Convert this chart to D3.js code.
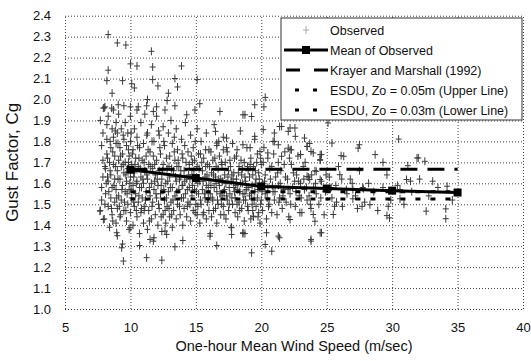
<!DOCTYPE html>
<html>
<head>
<meta charset="utf-8">
<script src="https://cdn.jsdelivr.net/npm/d3@7"></script>
<style>
  body { margin: 0; background: #fff; }
  svg { font-family: "Liberation Sans", Arial, sans-serif; }
</style>
</head>
<body>
<div id="chart"></div>
<script>
const xTicks = [5, 10, 15, 20, 25, 30, 35, 40]
const yTicks = [1.0, 1.1, 1.2, 1.3, 1.4, 1.5, 1.6, 1.7, 1.8, 1.9, 2.0, 2.1, 2.2, 2.3, 2.4]

// mean of observed gust factor by wind speed bin
const meanSpeed = [10, 15, 20, 25, 30, 35]
const meanGust = [1.665, 1.625, 1.585, 1.575, 1.565, 1.556]

// reference lines (flat across 10..35 m/s)
const refSpeed = [10, 35]
const krayerGust = [1.667, 1.667]
const esduUpperGust = [1.56, 1.56]
const esduLowerGust = [1.525, 1.525]

const legendLabels = [
  "Observed",
  "Mean of Observed",
  "Krayer and Marshall (1992)",
  "ESDU, Zo = 0.05m (Upper Line)",
  "ESDU, Zo = 0.03m (Lower Line)"
]

// observed points [speed, gust factor]
const observed = [
  [8.3,2.31],[9.0,2.27],[9.65,2.26],[11.6,2.23],[10.0,2.17],[10.5,2.16],[8.3,2.14],[11.7,2.155],[13.9,2.16],[8.2,2.09],
  [9.4,2.09],[10.1,2.075],[11.7,2.095],[12.1,2.065],[13.4,2.10],[13.6,2.06],[15.1,2.095],[10.3,2.055],[8.6,2.03],[12.9,2.03],
  [11.3,2.0],[12.8,1.995],[20.3,2.01],[8.05,1.965],[10.0,1.965],[10.6,1.965],[12.0,1.965],[15.3,1.98],[19.5,1.975],[20.2,1.965],
  [7.93,1.959],[8.57,1.959],[9.07,1.975],[11.24,1.97],[11.75,1.943],[12.64,1.95],[13.4,1.97],[14.3,1.927],[14.93,1.95],[16.84,1.943],
  [18.75,1.927],[19.26,1.919],[21.4,1.871],[22.57,1.864],[22.06,1.848],
  [18.6,1.927],[21.55,1.871],[22.2,1.864],[22.6,1.824],[20.15,1.856],[21.0,1.84],[16.5,1.848],[16.6,1.792],[17.35,1.816],[18.6,1.784],
  [19.5,1.824],[20.9,1.80],[21.3,1.784],[22.2,1.76],[23.5,1.776],[23.8,1.752],[24.5,1.713],[23.0,1.737],[17.1,1.76],[19.9,1.752],
  [20.5,1.745],[21.55,1.729],[24.2,1.657],[23.5,1.633],[23.7,1.618],[24.5,1.618],[23.3,1.816],[24.5,1.737],
  [9.46,1.229],[11.24,1.245],[12.4,1.233],[9.33,1.292],[10.7,1.303],[13.4,1.297],[14.0,1.327],[16.6,1.303],[19.26,1.268],[20.8,1.276],
  [8.95,1.364],[9.97,1.388],[11.5,1.332],[11.75,1.324],[12.64,1.372],[12.77,1.356],[16.08,1.348],[17.73,1.356],[18.75,1.36],[20.4,1.364],
  [21.4,1.34],[7.93,1.427],[7.67,1.467],[18.6,1.364],[21.3,1.348],[23.8,1.324],[24.6,1.364],[20.3,1.308],[17.73,1.388],[23.97,1.451],
  [24.1,1.419],[22.2,1.427],[19.4,1.443],
  [25.1,1.888],[25.4,1.792],[27.4,1.768],[30.5,1.811],[28.7,1.737],[29.3,1.70],[32.0,1.721],[31.2,1.684],[33.1,1.61],[31.1,1.618],
  [31.4,1.61],[26.3,1.729],[26.0,1.641],[27.7,1.49],[28.3,1.498],[29.7,1.49],[29.6,1.446],[29.8,1.435],[32.6,1.467],[34.1,1.478],
  [25.6,1.49],[25.5,1.451],[24.6,1.737],[27.0,1.57],[27.8,1.574],[30.6,1.526],[27.0,1.526],[30.6,1.57],[27.5,1.784],[26.1,1.732],
  [31.9,1.721],[32.5,1.705],[34.2,1.586],[34.1,1.431],[23.8,1.332],[24.5,1.364],[22.06,1.768],[23.5,1.776],[23.97,1.745],[23.0,1.737],
  [22.3,1.76],
  [7.7,1.47],[7.8,1.52],[7.8,1.58],[7.9,1.63],[7.9,1.71],[7.8,1.78],[7.9,1.84],[7.7,1.90],[8.0,1.43],[8.0,1.96],
  [8.1,1.55],[8.1,1.67],[8.2,1.74],[8.2,1.81],[8.2,1.88],[8.3,1.49],[8.3,1.61],[8.3,1.92],[8.4,1.39],[8.4,1.70],
  [8.5,1.53],[8.5,1.64],[8.5,1.77],[8.6,1.86],[8.6,1.45],[8.6,1.58],[8.7,1.69],[8.7,1.82],[8.7,1.95],[8.8,1.51],
  [8.8,1.62],[8.8,1.73],[8.9,1.41],[8.9,1.57],[8.9,1.79],[8.9,1.89],[9.0,1.66],[9.0,1.35],[9.0,1.48],[9.0,1.84],
  [9.1,1.54],[9.1,1.71],[9.1,1.93],[9.2,1.44],[9.2,1.62],[9.2,1.77],[9.3,1.52],[9.3,1.86],[9.3,1.68],[9.4,1.31],
  [9.4,1.59],[9.4,1.74],[9.5,1.47],[9.5,1.65],[9.5,1.81],[9.5,1.97],[9.6,1.56],[9.6,1.70],[9.6,1.89],[9.7,1.42],
  [9.7,1.61],[9.7,1.78],[9.8,1.50],[9.8,1.67],[9.8,1.84],[9.9,1.38],[9.9,1.57],[9.9,1.73],[10.0,1.46],[10.0,1.63],
  [10.0,1.80],[10.0,1.92],[10.1,1.53],[10.1,1.69],[10.2,1.40],[10.2,1.59],[10.2,1.76],[10.3,1.86],[10.3,1.49],[10.3,1.65],
  [10.4,1.55],[10.4,1.72],[10.5,1.44],[10.5,1.61],[10.5,1.82],[10.5,1.95],
  [10.6,1.51],[10.6,1.68],[10.7,1.36],[10.7,1.58],[10.7,1.77],[10.8,1.46],[10.8,1.63],[10.8,1.89],[10.9,1.53],[10.9,1.71],
  [11.0,1.41],[11.0,1.60],[11.0,1.79],[11.1,1.49],[11.1,1.66],[11.1,1.93],[11.2,1.56],[11.2,1.73],[11.3,1.38],[11.3,1.62],
  [11.3,1.84],[11.4,1.47],[11.4,1.69],[11.5,1.54],[11.5,1.75],[11.6,1.43],[11.6,1.60],[11.6,1.88],[11.7,1.51],[11.7,1.67],
  [11.8,1.34],[11.8,1.57],[11.8,1.80],[11.9,1.45],[11.9,1.64],[12.0,1.53],[12.0,1.71],[12.0,1.92],[12.1,1.40],[12.1,1.59],
  [12.2,1.48],[12.2,1.66],[12.2,1.83],[12.3,1.55],[12.3,1.74],[12.4,1.37],[12.4,1.62],[12.5,1.45],[12.5,1.69],[12.5,1.87],
  [12.6,1.52],[12.6,1.78],[12.7,1.41],[12.7,1.60],[12.8,1.49],[12.8,1.67],[12.9,1.56],[12.9,1.84],[13.0,1.44],[13.0,1.63],
  [13.0,1.73],[13.1,1.51],[13.1,1.90],[13.2,1.39],[13.2,1.58],[13.2,1.79],[13.3,1.47],[13.3,1.66],[13.4,1.54],[13.4,1.71],
  [13.5,1.43],[13.5,1.61],[13.5,1.86],[13.6,1.50],[13.6,1.76],[13.7,1.57],[13.7,1.68],[13.8,1.45],[13.8,1.63],[13.9,1.53],
  [13.9,1.81],[14.0,1.40],[14.0,1.59],[14.0,1.72],[14.1,1.48],[14.1,1.66],[14.2,1.55],[14.2,1.89],[14.3,1.44],[14.3,1.62],
  [14.4,1.51],[14.4,1.75],[14.5,1.58],[14.5,1.69],[14.6,1.42],[14.6,1.83],[14.7,1.54],[14.7,1.64],[14.8,1.47],[14.8,1.77],
  [14.9,1.57],[14.9,1.71],[15.0,1.50],[15.0,1.62],
  [15.1,1.45],[15.1,1.68],[15.1,1.86],[15.2,1.55],[15.2,1.74],[15.3,1.41],[15.3,1.61],[15.4,1.50],[15.4,1.80],[15.5,1.57],
  [15.5,1.66],[15.6,1.46],[15.6,1.72],[15.7,1.53],[15.7,1.63],[15.8,1.43],[15.8,1.59],[15.8,1.84],[15.9,1.51],[15.9,1.69],
  [16.0,1.47],[16.0,1.62],[16.0,1.76],[16.1,1.55],[16.1,1.36],[16.2,1.44],[16.2,1.65],[16.3,1.52],[16.3,1.71],[16.4,1.58],
  [16.4,1.88],[16.5,1.48],[16.5,1.63],[16.6,1.41],[16.6,1.56],[16.6,1.78],[16.7,1.50],[16.7,1.67],[16.8,1.59],[16.8,1.73],
  [16.9,1.45],[16.9,1.62],[17.0,1.54],[17.0,1.69],[17.1,1.49],[17.1,1.82],[17.2,1.57],[17.2,1.64],[17.3,1.43],[17.3,1.60],
  [17.4,1.52],[17.4,1.75],[17.5,1.47],[17.5,1.66],
  [17.6,1.55],[17.6,1.71],[17.7,1.39],[17.7,1.61],[17.8,1.50],[17.8,1.79],[17.9,1.58],[17.9,1.65],[18.0,1.46],[18.0,1.53],
  [18.1,1.62],[18.1,1.73],[18.2,1.44],[18.2,1.57],[18.3,1.51],[18.3,1.68],[18.4,1.60],[18.4,1.85],[18.5,1.48],[18.5,1.64],
  [18.6,1.55],[18.6,1.36],[18.7,1.42],[18.7,1.70],[18.8,1.52],[18.8,1.61],[18.9,1.58],[18.9,1.77],[19.0,1.47],[19.0,1.66],
  [19.1,1.54],[19.1,1.63],[19.2,1.43],[19.2,1.72],[19.3,1.50],[19.3,1.59],[19.4,1.44],[19.4,1.68],[19.5,1.56],[19.5,1.81],
  [19.6,1.49],[19.6,1.62],[19.7,1.53],[19.7,1.74],[19.8,1.46],[19.8,1.65],[19.9,1.58],[19.9,1.41],[20.0,1.52],[20.0,1.69],
  [20.1,1.60],[20.1,1.47],[20.2,1.77],[20.3,1.55],[20.3,1.64],[20.4,1.43],[20.5,1.58],[20.5,1.72],[20.6,1.50],[20.7,1.62],
  [20.8,1.46],[20.8,1.68],[20.9,1.56],[21.0,1.80],[21.0,1.52],[21.1,1.63],[21.2,1.45],[21.3,1.59],[21.3,1.70],[21.4,1.53],
  [21.5,1.66],[21.6,1.48],[21.7,1.57],[21.8,1.75],[21.9,1.51],[22.0,1.62],[22.1,1.44],[22.2,1.55],[22.3,1.69],[22.4,1.58],
  [22.6,1.49],[22.7,1.64],[22.8,1.73],[22.9,1.54],[23.0,1.60],[23.1,1.46],[23.2,1.68],[23.3,1.57],[23.5,1.52],[23.6,1.63],
  [23.7,1.79],[23.8,1.48],[24.0,1.58],[24.1,1.66],[24.2,1.55],[24.4,1.50],[24.5,1.71],[24.6,1.61],[24.8,1.45],[24.9,1.56],
  [25.2,1.63],[25.4,1.53],[25.7,1.59],[25.9,1.68],[26.2,1.49],[26.5,1.57],[26.8,1.62],[27.2,1.54],[27.5,1.66],[27.9,1.51],
  [28.2,1.60],[28.6,1.56],[28.9,1.47],[29.3,1.58],[29.6,1.64],[29.9,1.52],
  [30.4,1.59],[30.9,1.50],[31.5,1.56],[32.1,1.62],[32.8,1.54],[33.5,1.58],[34.6,1.52],
  [8.05,1.50],[8.15,1.60],[8.25,1.72],[8.35,1.56],[8.45,1.66],[8.55,1.48],[8.65,1.75],[8.75,1.59],[8.85,1.68],[8.95,1.53],
  [9.05,1.62],[9.15,1.49],[9.25,1.73],[9.35,1.57],[9.45,1.69],[9.55,1.51],[9.65,1.64],[9.75,1.55],[9.85,1.76],[9.95,1.60],
  [9.05,1.79],[9.25,1.45],[9.45,1.83],[9.65,1.47],[9.85,1.70],[8.45,1.80],[8.65,1.42],[8.85,1.85],[8.25,1.63],[8.05,1.68],
  [10.05,1.57],[10.15,1.74],[10.25,1.51],[10.35,1.69],[10.45,1.60],[10.55,1.78],[10.65,1.54],[10.75,1.67],[10.85,1.48],[10.95,1.62],
  [10.05,1.84],[10.25,1.63],[10.45,1.47],[10.65,1.72],[10.85,1.58],[11.05,1.70],[11.15,1.52],[11.25,1.64],[11.35,1.76],[11.45,1.58],
  [11.55,1.68],[11.65,1.49],[11.75,1.73],[11.85,1.61],[11.95,1.55],[11.05,1.47],[11.25,1.83],[11.45,1.42],[11.65,1.80],[11.85,1.69],
  [12.05,1.62],[12.15,1.50],[12.25,1.77],[12.35,1.59],[12.45,1.66],[12.55,1.57],[12.65,1.47],[12.75,1.72],[12.85,1.61],[12.95,1.68],
  [12.15,1.85],[12.35,1.44],[12.55,1.80],[12.75,1.53],[12.95,1.48],[13.05,1.58],[13.15,1.67],[13.25,1.52],[13.35,1.75],[13.45,1.63],
  [13.55,1.56],[13.65,1.71],[13.75,1.49],[13.85,1.66],[13.95,1.59],[13.15,1.45],[13.35,1.82],[13.55,1.68],[13.75,1.62],[13.95,1.74],
  [14.05,1.53],[14.15,1.61],[14.25,1.70],[14.35,1.57],[14.45,1.64],[14.55,1.50],[14.65,1.73],[14.75,1.59],[14.85,1.66],[14.95,1.46],
  [14.15,1.78],[14.35,1.49],[14.55,1.62],[14.75,1.70],[14.95,1.80],[15.05,1.56],[15.15,1.60],[15.25,1.67],[15.35,1.52],[15.45,1.70],
  [15.55,1.61],[15.65,1.55],[15.75,1.76],[15.85,1.64],[15.95,1.58],[15.15,1.49],[15.35,1.74],[15.55,1.45],[15.75,1.68],[15.95,1.53],
  [16.05,1.68],[16.15,1.59],[16.25,1.53],[16.35,1.64],[16.45,1.72],[16.55,1.60],[16.65,1.52],[16.75,1.62],[16.85,1.55],[16.95,1.70],
  [16.15,1.75],[16.35,1.47],[16.55,1.68],[16.75,1.80],[16.95,1.50],[17.05,1.61],[17.15,1.56],[17.25,1.70],[17.35,1.54],[17.45,1.63],
  [17.55,1.58],[17.65,1.68],[17.75,1.53],[17.85,1.62],[17.95,1.72],[17.15,1.45],[17.35,1.77],[17.55,1.50],[17.75,1.64],[17.95,1.56],
  [18.05,1.59],[18.15,1.50],[18.25,1.65],[18.35,1.56],[18.45,1.71],[18.55,1.60],[18.65,1.52],[18.75,1.63],[18.85,1.57],[18.95,1.68],
  [18.15,1.76],[18.35,1.47],[18.55,1.67],[18.75,1.55],[18.95,1.49],[19.05,1.58],[19.15,1.69],[19.25,1.55],[19.35,1.64],[19.45,1.52],
  [19.55,1.60],[19.65,1.70],[19.75,1.57],[19.85,1.62],[19.95,1.50],[19.15,1.77],[19.35,1.47],[19.55,1.66],[19.75,1.44],[19.95,1.72],
  [20.05,1.56],[20.25,1.61],[20.45,1.53],[20.65,1.67],[20.85,1.59],[21.05,1.56],[21.25,1.65],[21.45,1.60],[21.65,1.54],[21.85,1.63],
  [22.05,1.57],[22.25,1.50],[22.45,1.65],[22.65,1.56],[22.85,1.61],[23.05,1.53],[23.25,1.62],[23.45,1.58],[23.65,1.54],[23.85,1.64],
  [20.15,1.70],[20.55,1.49],[20.95,1.74],[21.35,1.51],[21.75,1.69],[22.15,1.72],[22.55,1.61],[22.95,1.46],[23.35,1.70],[23.75,1.50],
  [24.15,1.60],[24.55,1.53],[24.95,1.64],[25.35,1.58],[25.75,1.51],[26.15,1.62],[26.55,1.55],[26.95,1.60],[27.35,1.48],[27.75,1.58]
]

const width = 531
const height = 361
const plot = { left: 65, right: 523, top: 15.7, bottom: 309 }

const x = d3.scaleLinear().domain([5, 40]).range([plot.left, plot.right])
const y = d3.scaleLinear().domain([1.0, 2.4]).range([plot.bottom, plot.top])

const svg = d3.select("#chart")
  .append("svg")
  .attr("width", width)
  .attr("height", height)

// dotted gridlines, including the plot frame
const gridStyle = g => {
  g.select(".domain").remove()
  g.selectAll("line")
    .attr("stroke", "#444")
    .attr("stroke-width", 1)
    .attr("stroke-dasharray", "1,2")
  g.selectAll("text").remove()
}

svg.append("g")
  .attr("transform", `translate(${plot.left},0)`)
  .call(d3.axisLeft(y).tickValues(yTicks).tickSize(-(plot.right - plot.left)).tickFormat(""))
  .call(gridStyle)

svg.append("g")
  .attr("transform", `translate(0,${plot.bottom})`)
  .call(d3.axisBottom(x).tickValues(xTicks).tickSize(-(plot.bottom - plot.top)).tickFormat(""))
  .call(gridStyle)

// tick labels
const labelStyle = g => {
  g.select(".domain").remove()
  g.selectAll("line").remove()
  g.selectAll("text")
    .attr("fill", "#111")
    .style("font-size", "13px")
}

svg.append("g")
  .attr("transform", `translate(${plot.left},0)`)
  .call(d3.axisLeft(y).tickValues(yTicks).tickSize(0).tickPadding(14).tickFormat(d3.format(".1f")))
  .call(labelStyle)

svg.append("g")
  .attr("transform", `translate(0,${plot.bottom})`)
  .call(d3.axisBottom(x).tickValues(xTicks).tickSize(0).tickPadding(14).tickFormat(d3.format("d")))
  .call(labelStyle)

// axis titles
svg.append("text")
  .attr("x", (plot.left + plot.right) / 2)
  .attr("y", 351)
  .attr("text-anchor", "middle")
  .attr("fill", "#111")
  .style("font-size", "14.5px")
  .text("One-hour Mean Wind Speed (m/sec)")

svg.append("text")
  .attr("transform", `translate(18,${(plot.top + plot.bottom) / 2}) rotate(-90)`)
  .attr("text-anchor", "middle")
  .attr("fill", "#111")
  .style("font-size", "17px")
  .text("Gust Factor, Cg")

// observed scatter as "+" marks
const cross = (cx, cy, hw, hh) => `M${cx - hw},${cy}H${cx + hw}M${cx},${cy - hh}V${cy + hh}`

svg.append("g")
  .selectAll("path")
  .data(observed)
  .enter()
  .append("path")
  .attr("d", d => cross(x(d[0]), y(d[1]), 3, 4))
  .attr("stroke", "#3a3a3a")
  .attr("stroke-width", 1)
  .attr("fill", "none")

// reference lines
const refLine = d3.line().x(d => x(d[0])).y(d => y(d[1]))

svg.append("path")
  .datum(refSpeed.map((s, i) => [s, krayerGust[i]]))
  .attr("d", refLine)
  .attr("stroke", "#000")
  .attr("stroke-width", 3)
  .attr("stroke-dasharray", "17,10")
  .attr("fill", "none")

svg.append("path")
  .datum(refSpeed.map((s, i) => [s, esduUpperGust[i]]))
  .attr("d", refLine)
  .attr("stroke", "#000")
  .attr("stroke-width", 3)
  .attr("stroke-dasharray", "5,10")
  .attr("fill", "none")

svg.append("path")
  .datum(refSpeed.map((s, i) => [s, esduLowerGust[i]]))
  .attr("d", refLine)
  .attr("stroke", "#000")
  .attr("stroke-width", 3)
  .attr("stroke-dasharray", "5,10")
  .attr("fill", "none")

// mean line with square markers
const meanData = meanSpeed.map((s, i) => [s, meanGust[i]])
svg.append("path")
  .datum(meanData)
  .attr("d", refLine)
  .attr("stroke", "#000")
  .attr("stroke-width", 3)
  .attr("fill", "none")

svg.append("g")
  .selectAll("rect")
  .data(meanData)
  .enter()
  .append("rect")
  .attr("x", d => x(d[0]) - 4)
  .attr("y", d => y(d[1]) - 4)
  .attr("width", 8)
  .attr("height", 8)
  .attr("fill", "#000")

// legend
const legend = svg.append("g").attr("transform", "translate(281,18)")
legend.append("rect")
  .attr("width", 241)
  .attr("height", 102)
  .attr("fill", "#fff")
  .attr("stroke", "#333")
  .attr("stroke-width", 1)

const rowY = i => 12 + i * 20
const sx0 = 3, sx1 = 47, tx = 49

legend.selectAll(".legend-label")
  .data(legendLabels)
  .enter()
  .append("text")
  .attr("class", "legend-label")
  .attr("x", tx)
  .attr("y", (_, i) => rowY(i) + 4.5)
  .attr("fill", "#111")
  .style("font-size", "12.5px")
  .text(d => d)

legend.append("path")
  .attr("d", cross(25, rowY(0), 3, 4))
  .attr("stroke", "#aaa")
  .attr("fill", "none")

legend.append("line")
  .attr("x1", sx0).attr("x2", sx1)
  .attr("y1", rowY(1)).attr("y2", rowY(1))
  .attr("stroke", "#000").attr("stroke-width", 3)
legend.append("rect")
  .attr("x", 21).attr("y", rowY(1) - 4)
  .attr("width", 8).attr("height", 8)
  .attr("fill", "#000")

legend.append("line")
  .attr("x1", sx0 + 2).attr("x2", sx1)
  .attr("y1", rowY(2)).attr("y2", rowY(2))
  .attr("stroke", "#000").attr("stroke-width", 3)
  .attr("stroke-dasharray", "14,14")

for (const i of [3, 4]) {
  legend.append("line")
    .attr("x1", sx0 + 11).attr("x2", sx1)
    .attr("y1", rowY(i)).attr("y2", rowY(i))
    .attr("stroke", "#000").attr("stroke-width", 3)
    .attr("stroke-dasharray", "4,14")
}
</script>
</body>
</html>
